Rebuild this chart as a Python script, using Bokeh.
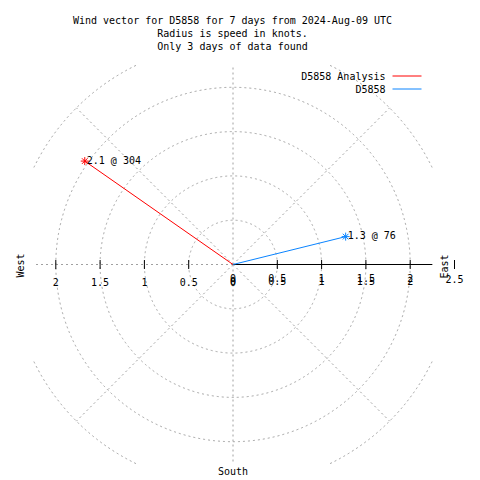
import numpy as np
from bokeh.plotting import figure
from bokeh.models import Range1d
from bokeh.core.properties import value
from bokeh.embed import file_html
from bokeh.resources import INLINE

# ---------------- data ----------------
title_lines = ["Wind vector for D5858 for 7 days from 2024-Aug-09 UTC",
               "Radius is speed in knots.",
               "Only 3 days of data found"]
series_names = ["D5858 Analysis", "D5858"]
speeds = [2.04, 1.31]            # knots (radius)
directions = [304.9, 76.1]       # degrees clockwise from north
point_labels = ["2.1 @ 304", "1.3 @ 76"]
grid_radii = [0.5, 1.0, 1.5, 2.0, 2.5]
spoke_angles = [0, 45, 90, 135, 180, 225, 270, 315]
tick_values = [0.5, 1.0, 1.5, 2.0, 2.5]
left_tick_values = [0.0, 0.5, 1.0, 1.5, 2.0]
left_tick_labels = ["0", "0.5", "1", "1.5", "2"]
right_tick_values = [0.0, 0.5, 1.0, 1.5, 2.0]
right_tick_labels = ["0", "0.5", "1", "1.5", "2"]
outer_tick_value = 2.5
outer_tick_label = "2.5"
clip_half = 2.25

# ---------------- styles ----------------
series_colors = ["#ff0000", "#0a84ff"]
GRID = "#a0a0a0"
FONT = value("DejaVu Sans Mono")
FS = value("10px")
CX, CY, S = 232.5, 264.0, 88.6   # page pixel centre, pixels per knot
W = 480


def px(x):   # page pixel -> data x
    return (x - CX) / S


def py(y):   # page pixel -> data y
    return (CY - y) / S


p = figure(width=W, height=W, output_backend="svg", toolbar_location=None,
           x_range=Range1d(px(0), px(W)), y_range=Range1d(py(W), py(0)),
           min_border=0, min_border_left=0, min_border_right=0,
           min_border_top=0, min_border_bottom=0)
p.axis.visible = False
p.xgrid.visible = False
p.ygrid.visible = False
p.outline_line_color = None
p.background_fill_color = "white"
p.border_fill_color = "white"


def clip(xs, ys):
    xs = np.array(xs, dtype=float)
    ys = np.array(ys, dtype=float)
    out = (np.abs(xs) > clip_half + 1e-9) | (np.abs(ys) > clip_half + 1e-9)
    xs[out] = np.nan
    ys[out] = np.nan
    return xs, ys


# grid circles
th = np.linspace(0, 2 * np.pi, 1441)
for r in grid_radii:
    xs, ys = clip(r * np.cos(th), r * np.sin(th))
    p.line(xs, ys, line_color=GRID, line_width=1, line_dash="2 3")

# spokes
for a in spoke_angles:
    if a == 90:
        continue
    rad = np.deg2rad(a)
    s, c = np.sin(rad), np.cos(rad)
    m = max(abs(s), abs(c))
    rend = min(grid_radii[-1], clip_half / m)
    p.line([0, rend * s], [0, rend * c], line_color=GRID, line_width=1, line_dash="2 3")

# axis line (east)
p.line([0, clip_half], [0, 0], line_color="black", line_width=1)

# ticks
tl = 4.5 / S
tx = [v for v in tick_values] + [-v for v in tick_values[:-1]]
p.segment(x0=tx, y0=[-tl] * len(tx), x1=tx, y1=[tl] * len(tx), line_color="black", line_width=1)

# tick labels
p.text(x=[-v for v in left_tick_values], y=[0] * len(left_tick_values), text=left_tick_labels,
       text_font=FONT, text_font_size=FS, text_align="center", text_baseline="middle",
       y_offset=17, text_color="black")
p.text(x=right_tick_values, y=[0] * len(right_tick_values), text=right_tick_labels,
       text_font=FONT, text_font_size=FS, text_align="center", text_baseline="middle",
       y_offset=13.5, text_color="black")
p.text(x=right_tick_values, y=[0] * len(right_tick_values), text=right_tick_labels,
       text_font=FONT, text_font_size=FS, text_align="center", text_baseline="middle",
       y_offset=16, text_color="black")
p.text(x=[outer_tick_value], y=[0], text=[outer_tick_label],
       text_font=FONT, text_font_size=FS, text_align="center", text_baseline="middle",
       y_offset=14.5, text_color="black")

# compass labels
p.text(x=[px(20)], y=[py(265)], text=["West"], angle=np.pi / 2, text_font=FONT,
       text_font_size=FS, text_align="center", text_baseline="middle")
p.text(x=[px(444)], y=[py(266)], text=["East"], angle=np.pi / 2, text_font=FONT,
       text_font_size=FS, text_align="center", text_baseline="middle")
p.text(x=[px(232.5)], y=[py(471)], text=["South"], text_font=FONT,
       text_font_size=FS, text_align="center", text_baseline="middle")

# title
p.text(x=[px(232)] * 3, y=[py(20), py(33), py(46)], text=title_lines, text_font=FONT,
       text_font_size=FS, text_align="center", text_baseline="middle")

# vectors
for i, name in enumerate(series_names):
    rad = np.deg2rad(directions[i])
    ex, ey = speeds[i] * np.sin(rad), speeds[i] * np.cos(rad)
    p.line([0, ex], [0, ey], line_color=series_colors[i], line_width=1)
    p.scatter([ex], [ey], marker="asterisk", size=8, line_color=series_colors[i], line_width=1)
    p.text(x=[ex], y=[ey], text=[point_labels[i]], text_font=FONT, text_font_size=FS,
           text_align="left", text_baseline="middle", x_offset=2, y_offset=-1)

# legend
leg_y = [76, 89]
for i, name in enumerate(series_names):
    p.text(x=[px(385)], y=[py(leg_y[i])], text=[name], text_font=FONT, text_font_size=FS,
           text_align="right", text_baseline="middle")
    p.line([px(392), px(421)], [py(leg_y[i] - 0.5)] * 2, line_color=series_colors[i], line_width=1)

open("out.html", "w").write(file_html(p, INLINE))
